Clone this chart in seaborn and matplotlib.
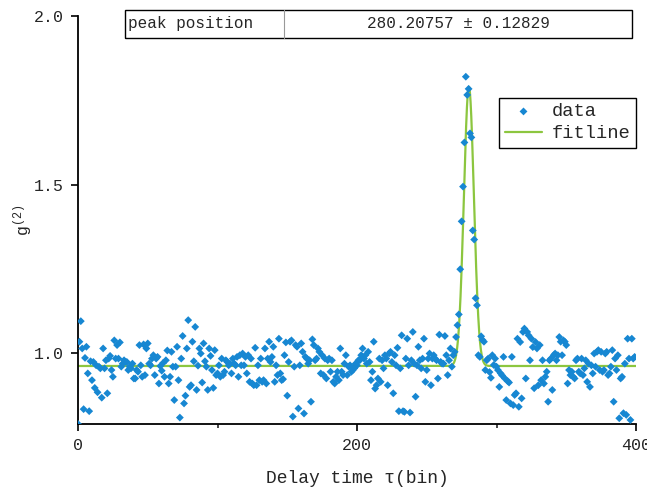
import numpy as np
import pandas as pd
import matplotlib
matplotlib.use("Agg")
import matplotlib.pyplot as plt
from matplotlib.ticker import MultipleLocator
import seaborn as sns

# g2 values, one per delay bin (0..399)
g2_bins_0_64 = [
    0.790, 1.034, 1.095, 1.014, 0.834, 0.986, 1.019, 0.940, 0.828, 0.976,
    0.920, 0.974, 0.897, 0.964, 0.884, 0.960, 0.955, 0.868, 1.014, 0.955,
    0.979, 0.881, 0.984, 0.992, 0.950, 0.930, 1.038, 0.984, 1.024, 0.984,
    1.032, 0.960, 0.969, 0.979, 0.974, 0.974, 0.950, 0.960, 0.955, 0.969,
    0.925, 0.925, 0.950, 0.945, 1.024, 0.964, 0.930, 1.026, 0.935, 1.014,
    1.029, 0.969, 0.964, 0.984, 0.994, 0.935, 0.984, 0.989, 0.910, 0.962,
    0.948, 0.971, 0.930, 0.979, 1.008]
g2_bins_65_133 = [
    0.910, 0.930, 1.004, 0.960, 0.861, 0.960, 1.019, 0.920, 0.809, 0.984,
    1.051, 0.851, 0.874, 1.014, 1.098, 0.900, 0.905, 1.034, 0.976, 1.078,
    0.891, 0.963, 1.014, 0.999, 0.913, 1.029, 0.976, 0.960, 0.891, 1.014,
    0.992, 0.950, 0.897, 1.009, 0.935, 0.940, 0.964, 0.930, 0.984, 0.935,
    0.945, 0.979, 0.974, 0.964, 0.969, 0.940, 0.984, 0.969, 0.964, 0.989,
    0.930, 0.994, 0.964, 0.999, 0.964, 0.989, 0.940, 0.994, 0.915, 0.984,
    0.910, 0.905, 1.016, 0.905, 0.964, 0.920, 0.984, 0.915, 0.920]
g2_bins_134_201 = [
    1.014, 0.910, 0.984, 1.034, 0.974, 0.989, 1.019, 0.915, 0.964, 0.935,
    1.043, 0.940, 0.920, 0.923, 0.994, 1.032, 0.874, 0.974, 1.034, 1.038,
    0.812, 0.960, 1.024, 1.019, 0.836, 0.964, 1.029, 1.004, 0.821, 0.989,
    0.984, 0.969, 0.979, 0.856, 1.041, 1.024, 0.979, 0.984, 1.014, 1.004,
    0.940, 0.994, 0.935, 0.984, 0.925, 0.979, 0.984, 0.945, 0.979, 0.915,
    0.910, 0.930, 0.945, 0.920, 1.014, 0.945, 0.935, 0.969, 0.994, 0.935,
    0.960, 0.964, 0.945, 0.950, 0.955, 0.969, 0.964, 0.979]
g2_bins_202_267 = [
    0.979, 0.994, 1.014, 0.984, 0.994, 0.969, 1.004, 0.974, 0.920, 0.945,
    1.034, 0.895, 0.905, 0.925, 0.984, 0.915, 0.979, 0.955, 0.994, 0.984,
    0.905, 0.999, 1.004, 0.974, 0.881, 0.994, 0.964, 1.016, 0.828, 0.955,
    1.053, 0.828, 0.826, 0.984, 1.043, 0.964, 0.824, 0.979, 1.063, 0.969,
    0.871, 0.964, 1.019, 0.979, 0.955, 0.984, 1.043, 0.915, 0.950, 0.984,
    0.999, 0.905, 0.984, 0.994, 0.984, 0.979, 0.925, 1.055, 0.974, 0.969,
    0.969, 1.051, 0.994, 0.935, 0.979, 1.014]
g2_bins_268_290 = [
    0.960, 0.994, 1.004, 1.048, 1.083, 1.115, 1.249, 1.391, 1.494, 1.625,
    1.820, 1.766, 1.784, 1.652, 1.640, 1.364, 1.337, 1.163, 1.142, 0.994,
    0.989, 1.050, 1.039]
g2_bins_291_333 = [
    1.034, 0.950, 0.979, 0.984, 0.944, 0.927, 0.994, 0.965, 0.984, 0.960,
    0.950, 0.900, 0.940, 0.934, 0.989, 0.925, 0.861, 0.917, 0.913, 0.851,
    0.989, 0.846, 0.876, 0.881, 1.043, 0.841, 1.033, 0.866, 1.063, 1.073,
    0.925, 1.063, 1.053, 0.979, 1.043, 1.018, 0.896, 1.033, 1.014, 0.905,
    1.024, 0.920, 0.979]
g2_bins_334_399 = [
    0.910, 0.930, 0.945, 0.856, 0.979, 0.984, 0.891, 0.994, 0.999, 0.979,
    0.994, 1.048, 1.034, 0.994, 1.038, 1.034, 1.024, 0.910, 0.950, 0.935,
    0.945, 0.930, 0.925, 0.979, 0.984, 0.945, 0.940, 0.984, 0.935, 0.955,
    0.979, 0.915, 0.969, 0.900, 0.964, 0.940, 0.999, 0.960, 1.004, 1.009,
    0.950, 1.004, 0.945, 0.950, 0.999, 1.004, 0.935, 0.940, 0.960, 1.009,
    0.856, 0.984, 0.950, 0.994, 0.807, 0.925, 0.930, 0.822, 0.969, 0.817,
    1.043, 0.984, 0.802, 1.043, 0.984, 0.989]

# Gaussian fit parameters
peak_center = 280.20757
peak_center_err = 0.12829
fit_baseline = 0.962
fit_amplitude = 0.828
fit_sigma = 3.6

g2 = np.concatenate([g2_bins_0_64, g2_bins_65_133, g2_bins_134_201,
                     g2_bins_202_267, g2_bins_268_290, g2_bins_291_333,
                     g2_bins_334_399])
delay = np.arange(len(g2))
df = pd.DataFrame({"delay": delay, "g2": g2})

tau_fit = np.linspace(0, 400, 4001)
g2_fit = fit_baseline + fit_amplitude * np.exp(-(tau_fit - peak_center) ** 2 / (2 * fit_sigma ** 2))
fit_df = pd.DataFrame({"delay": tau_fit, "g2": g2_fit})

sns.set_style("ticks")
plt.rcParams["font.family"] = ["Liberation Mono", "DejaVu Sans"]
plt.rcParams["mathtext.fontset"] = "custom"
plt.rcParams["mathtext.rm"] = "Liberation Mono"
plt.rcParams["mathtext.it"] = "Liberation Mono"

fig, ax = plt.subplots(figsize=(6.47, 4.93), dpi=100)
fig.subplots_adjust(left=0.1206, right=0.983, top=0.9675, bottom=0.14)

sns.scatterplot(data=df, x="delay", y="g2", ax=ax, marker="D", s=16,
                color="#1787d2", edgecolor="none", label="data", zorder=3)
sns.lineplot(data=fit_df, x="delay", y="g2", ax=ax, color="#8cc63f",
             linewidth=1.6, label="fitline", zorder=2)

ax.set_xlim(0, 400)
ax.set_ylim(0.79, 2.0)
ax.set_xticks([0, 200, 400])
ax.xaxis.set_minor_locator(MultipleLocator(100))
ax.set_yticks([1.0, 1.5, 2.0])
ax.tick_params(axis="both", which="major", direction="out", length=5, width=1.2,
               labelsize=12, color="black", pad=5)
ax.tick_params(axis="x", which="minor", direction="out", length=3, width=1.2)
sns.despine(ax=ax)
for side in ["left", "bottom"]:
    ax.spines[side].set_linewidth(1.3)
    ax.spines[side].set_color("black")

ax.set_xlabel("Delay time τ(bin)", fontsize=13, labelpad=12)
ax.set_ylabel(r"g$^{\rm (2)}$", fontsize=12, labelpad=0)

leg = ax.legend(loc="upper right", bbox_to_anchor=(1.0, 0.80), borderaxespad=0,
                fancybox=False, edgecolor="black", framealpha=1, fontsize=13.5,
                handlelength=2.0, handletextpad=0.5, borderpad=0.3, labelspacing=0.25)
leg.get_frame().set_linewidth(1.0)

# fit result box above the data
tbl = ax.table(cellText=[["peak position", f"{peak_center:.5f} ± {peak_center_err:.5f}"]],
               cellLoc="center", colWidths=[0.314, 0.686],
               bbox=[0.084, 0.946, 0.909, 0.069])
tbl.auto_set_font_size(False)
for (r, c), cell in tbl.get_celld().items():
    cell.set_linewidth(1.0)
    cell.set_edgecolor("black")
    cell.get_text().set_fontsize(11.5)
    cell.set_clip_on(False)
    if c == 0:
        cell.visible_edges = "BTL"
        cell.get_text().set_horizontalalignment("left")
        cell.PAD = 0.02
    else:
        cell.visible_edges = "BTR"
ax.plot([0.084 + 0.909 * 0.314] * 2, [0.946, 1.015], transform=ax.transAxes,
        color="0.6", linewidth=0.8, clip_on=False)

fig.savefig("out.png", dpi=100)
